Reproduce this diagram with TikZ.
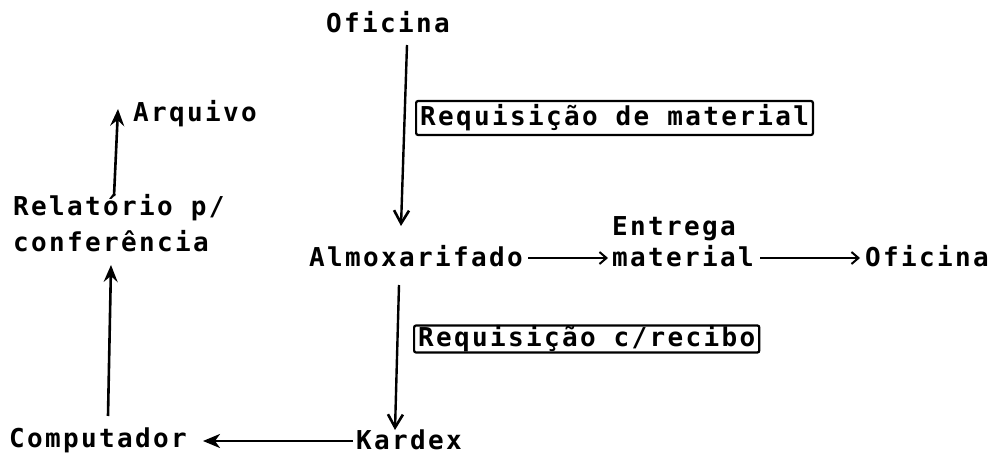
\documentclass[tikz,border=0pt]{standalone}
\usepackage{fontspec}
\setmainfont{DejaVu Sans Mono}[LetterSpace=9]
\usetikzlibrary{arrows.meta}
\begin{document}
\begin{tikzpicture}[x=1pt,y=1pt,
  lbl/.style={anchor=west,inner sep=0pt,font=\fontsize{26}{28}\selectfont\bfseries},
  boxlbl/.style={anchor=west,draw,line width=2.2pt,rounded corners=2pt,inner xsep=4pt,inner ysep=0pt,font=\fontsize{26}{28}\selectfont\bfseries},
  downarr/.style={line width=2.4pt,-{Straight Barb[length=13pt,width=15pt,line width=2.6pt]}},
  uparr/.style={line width=2.6pt,-{Stealth[length=17pt,width=14pt,inset=6pt]}},
  harr/.style={line width=2pt,-{Straight Barb[length=7pt,width=12pt,line width=2pt]}},
  larr/.style={line width=2.4pt,-{Stealth[length=17pt,width=14pt,inset=5pt]}}]
\useasboundingbox (0,0) rectangle (1002,-455);
% labels
\node[lbl] (of1) at (326,-22) {Oficina};
\node[lbl] (arq) at (133,-114) {Arquivo};
\node[lbl] (rel) at (13,-208) {Relatório p/};
\node[lbl] (conf) at (13,-241) {conferência};
\node[lbl] (alm) at (309,-256) {Almoxarifado};
\node[lbl] (ent) at (612,-229) {Entrega};
\node[lbl] (mat) at (612,-256) {material};
\node[lbl] (of2) at (865,-256) {Oficina};
\node[lbl] (comp) at (9,-440) {Computador};
\node[lbl] (kar) at (356,-440) {Kardex};
\node[boxlbl,minimum height=34pt] (req1) at (415,-118) {Requisição de material};
\node[boxlbl,minimum height=27pt] (req2) at (413,-339) {Requisição c/recibo};
% connector end points
\coordinate (p1) at (407,-45);
\coordinate (p2) at (401,-226);
\coordinate (p3) at (399,-285);
\coordinate (p4) at (395,-430);
\coordinate (p5) at (114,-196);
\coordinate (p6) at (118,-109);
\coordinate (p7) at (108,-416);
\coordinate (p8) at (111,-265);
\coordinate (p9) at (353,-441);
\coordinate (p10) at (203,-441);
\coordinate (p11) at (528,-258);
\coordinate (p12) at (608,-258);
\coordinate (p13) at (760,-258);
\coordinate (p14) at (860,-258);
% connectors
\draw[downarr] (p1) -- (p2);
\draw[downarr] (p3) -- (p4);
\draw[uparr] (p5) -- (p6);
\draw[uparr] (p7) -- (p8);
\draw[larr] (p9) -- (p10);
\draw[harr] (p11) -- (p12);
\draw[harr] (p13) -- (p14);
\end{tikzpicture}
\end{document}
